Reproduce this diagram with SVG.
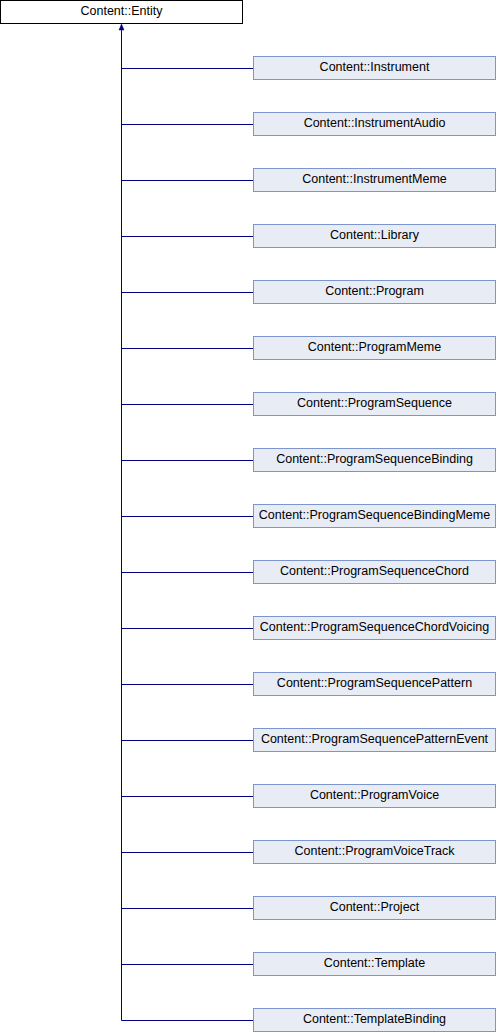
<svg xmlns="http://www.w3.org/2000/svg" width="496" height="1032" viewBox="0 0 496 1032">
<style>
text{font-family:"Liberation Sans",Arial,sans-serif;font-size:12.5px;fill:#000;text-anchor:middle}
.c rect{fill:#E8ECF5;stroke:#7C95CF;stroke-width:1}
.p rect{fill:#fff;stroke:#000;stroke-width:1}
.e{stroke:#000080;stroke-width:1;fill:none}
</style>
<rect width="496" height="1032" fill="#fff"/>
<g id="connectors">
<path class="e" d="M121.5,29V1020.5"/>
<polygon points="121.5,24 119,30 124,30" fill="#000080" stroke="#000080" stroke-width="0.5"/>
<path class="e" d="M121.5,68.5H253.5M121.5,124.5H253.5M121.5,180.5H253.5M121.5,236.5H253.5M121.5,292.5H253.5M121.5,348.5H253.5M121.5,404.5H253.5M121.5,460.5H253.5M121.5,516.5H253.5M121.5,572.5H253.5M121.5,628.5H253.5M121.5,684.5H253.5M121.5,740.5H253.5M121.5,796.5H253.5M121.5,852.5H253.5M121.5,908.5H253.5M121.5,964.5H253.5M121.5,1020.5H253.5"/>
</g>
<g id="entity" class="p"><rect x="0.5" y="0.5" width="242" height="23"/><text x="121.5" y="15">Content::Entity</text></g>
<g id="instrument" class="c"><rect x="253.5" y="56.5" width="242" height="23"/><text x="374.5" y="71">Content::Instrument</text></g>
<g id="instrumentaudio" class="c"><rect x="253.5" y="112.5" width="242" height="23"/><text x="374.5" y="127">Content::InstrumentAudio</text></g>
<g id="instrumentmeme" class="c"><rect x="253.5" y="168.5" width="242" height="23"/><text x="374.5" y="183">Content::InstrumentMeme</text></g>
<g id="library" class="c"><rect x="253.5" y="224.5" width="242" height="23"/><text x="374.5" y="239">Content::Library</text></g>
<g id="program" class="c"><rect x="253.5" y="280.5" width="242" height="23"/><text x="374.5" y="295">Content::Program</text></g>
<g id="programmeme" class="c"><rect x="253.5" y="336.5" width="242" height="23"/><text x="374.5" y="351">Content::ProgramMeme</text></g>
<g id="programsequence" class="c"><rect x="253.5" y="392.5" width="242" height="23"/><text x="374.5" y="407">Content::ProgramSequence</text></g>
<g id="programsequencebinding" class="c"><rect x="253.5" y="448.5" width="242" height="23"/><text x="374.5" y="463">Content::ProgramSequenceBinding</text></g>
<g id="programsequencebindingmeme" class="c"><rect x="253.5" y="504.5" width="242" height="23"/><text x="374.5" y="519">Content::ProgramSequenceBindingMeme</text></g>
<g id="programsequencechord" class="c"><rect x="253.5" y="560.5" width="242" height="23"/><text x="374.5" y="575">Content::ProgramSequenceChord</text></g>
<g id="programsequencechordvoicing" class="c"><rect x="253.5" y="616.5" width="242" height="23"/><text x="374.5" y="631">Content::ProgramSequenceChordVoicing</text></g>
<g id="programsequencepattern" class="c"><rect x="253.5" y="672.5" width="242" height="23"/><text x="374.5" y="687">Content::ProgramSequencePattern</text></g>
<g id="programsequencepatternevent" class="c"><rect x="253.5" y="728.5" width="242" height="23"/><text x="374.5" y="743">Content::ProgramSequencePatternEvent</text></g>
<g id="programvoice" class="c"><rect x="253.5" y="784.5" width="242" height="23"/><text x="374.5" y="799">Content::ProgramVoice</text></g>
<g id="programvoicetrack" class="c"><rect x="253.5" y="840.5" width="242" height="23"/><text x="374.5" y="855">Content::ProgramVoiceTrack</text></g>
<g id="project" class="c"><rect x="253.5" y="896.5" width="242" height="23"/><text x="374.5" y="911">Content::Project</text></g>
<g id="template" class="c"><rect x="253.5" y="952.5" width="242" height="23"/><text x="374.5" y="967">Content::Template</text></g>
<g id="templatebinding" class="c"><rect x="253.5" y="1008.5" width="242" height="23"/><text x="374.5" y="1023">Content::TemplateBinding</text></g>
</svg>
